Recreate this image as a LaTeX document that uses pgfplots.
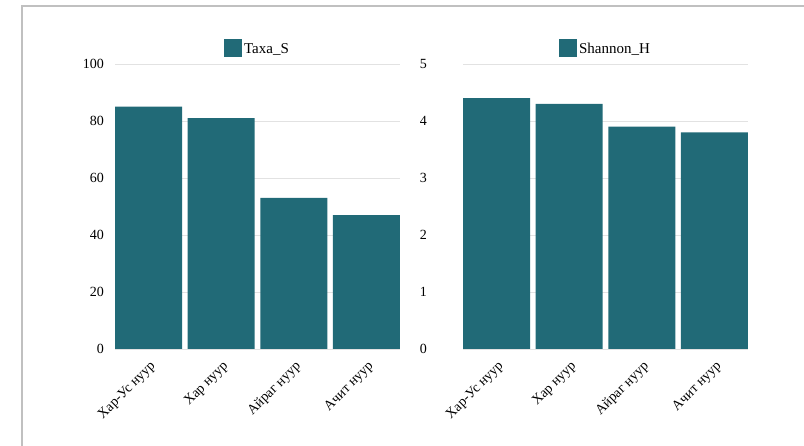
\documentclass[border=0pt]{standalone}
\usepackage{fontspec}
\setmainfont{Liberation Serif}
\usepackage{pgfplots}
\pgfplotsset{compat=1.18}
\definecolor{barc}{HTML}{216A77}
\definecolor{gridc}{HTML}{E2E2E2}
\definecolor{framec}{HTML}{C0C0C0}
\pgfplotsset{myaxis/.style={
  scale only axis, width=285pt, height=285pt,
  anchor=south west,
  xmin=-0.462, xmax=3.462, ymin=0,
  xtick={0,1,2,3},
  xticklabels={Хар-Ус нуур, Хар нуур, Айраг нуур, Ачит нуур},
  ymajorgrids, grid style={gridc, line width=0.8pt},
  axis line style={draw=none},
  major tick length=0pt,
  ybar, bar width=67pt,
  /pgf/number format/assume math mode=true,
  ticklabel style={font=\fontsize{14}{16}\selectfont},
  xticklabel style={xshift=5pt, yshift=-15.5pt, rotate=45, anchor=east, inner sep=0pt},
  legend style={at={(0.5,1)}, anchor=south, yshift=7pt, draw=none, fill=none,
    font=\fontsize{15}{17}\selectfont, inner sep=0pt,
    nodes={inner sep=2pt},
    /tikz/every even column/.style={column sep=0pt}},
  legend image code/.code={\fill[barc] (0pt,-8pt) rectangle (18pt,10pt);},
}}
\begin{document}
\begin{tikzpicture}
\useasboundingbox (0pt,0pt) rectangle (804pt,446pt);
\draw[framec, line width=1.5pt] (22pt,0pt) -- (22pt,440pt) -- (804pt,440pt);
\begin{axis}[myaxis, at={(115pt,97pt)}, ymax=100, ytick={0,20,...,100},
  yticklabel style={inner sep=0pt, xshift=-11pt}]
\addplot[fill=barc, draw=none] coordinates {(0,85) (1,81) (2,53) (3,47)};
\addlegendentry{Taxa\_S}
\end{axis}
\begin{axis}[myaxis, at={(463pt,97pt)}, ymax=5, ytick={0,1,2,3,4,5},
  yticklabel style={inner sep=0pt, xshift=-36pt}]
\addplot[fill=barc, draw=none] coordinates {(0,4.4) (1,4.3) (2,3.9) (3,3.8)};
\addlegendentry{Shannon\_H}
\end{axis}
\end{tikzpicture}
\end{document}
